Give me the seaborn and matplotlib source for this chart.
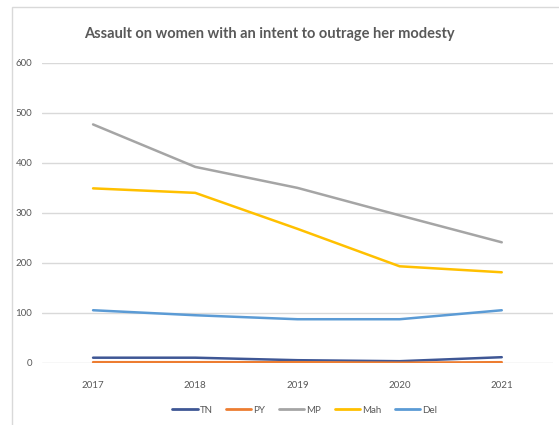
import matplotlib
matplotlib.use("Agg")
import matplotlib.pyplot as plt
import seaborn as sns
import pandas as pd
from matplotlib.patches import Rectangle

years = [2017, 2018, 2019, 2020, 2021]
tn = [10, 10, 5, 3, 11]
py = [1, 1, 1, 0, 1]
mp = [477, 392, 350, 295, 241]
mah = [349, 340, 268, 193, 181]
dl = [105, 95, 87, 87, 105]

states = ["TN", "PY", "MP", "Mah", "Del"]
colors = ["#3F5795", "#ED7D31", "#A5A5A5", "#FFC000", "#5B9BD5"]
y_ticks = [0, 100, 200, 300, 400, 500, 600]
title = "Assault on women with an intent to outrage her modesty"

series = dict(zip(states, [tn, py, mp, mah, dl]))
df = pd.DataFrame(
    [(y, s, v) for s in states for y, v in zip(years, series[s])],
    columns=["Year", "State", "Cases"],
)

sns.set_theme(style="white")
plt.rcParams["font.family"] = ["Lato", "DejaVu Sans"]

fig = plt.figure(figsize=(5.59, 4.25), dpi=100)
ax = fig.add_axes([0.0751, 0.1466, 0.9139, 0.7052])

# chart-area frame
fig.patches.append(Rectangle((12 / 559, -0.05), 1.2, 1 - 7 / 425 + 0.05,
                             transform=fig.transFigure, fill=False,
                             edgecolor="#D9D9D9", linewidth=1.0, zorder=0))

sns.lineplot(data=df, x="Year", y="Cases", hue="State", hue_order=states,
             palette=dict(zip(states, colors)), linewidth=1.8, ax=ax,
             legend=False, zorder=3)

ax.set_xlim(2016.5, 2021.5)
ax.set_ylim(0, 600)
ax.set_yticks(y_ticks)
ax.set_xticks(years)
ax.set_xticklabels([str(y) for y in years])
ax.yaxis.grid(True, color="#D9D9D9", linewidth=1.0)
ax.set_axisbelow(True)
for sp in ax.spines.values():
    sp.set_visible(False)
ax.set_xlabel("")
ax.set_ylabel("")
ax.tick_params(axis="both", length=0, labelsize=7, labelcolor="#595959")
ax.tick_params(axis="x", pad=13)
ax.tick_params(axis="y", pad=7)

fig.text(0.482, 0.921, title, ha="center", va="center", fontsize=10.5,
         color="#595959", fontweight="bold")

handles = [plt.Line2D([], [], color=c, linewidth=2.0) for c in colors]
fig.legend(handles, states, loc="center", bbox_to_anchor=(0.545, 0.035),
           ncol=5, frameon=False, fontsize=7, labelcolor="#595959",
           handlelength=2.6, handletextpad=0.2, columnspacing=1.4)

fig.savefig("out.png", dpi=100)
